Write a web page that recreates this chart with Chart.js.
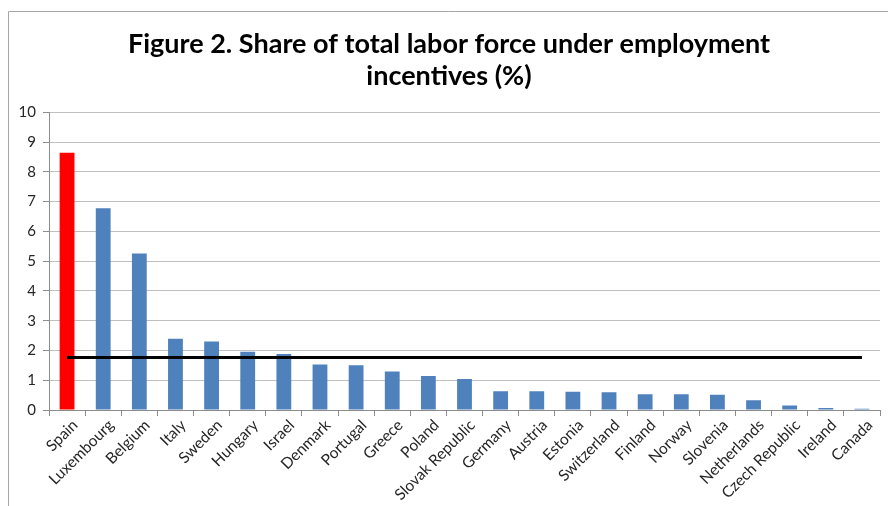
<!DOCTYPE html>
<html>
<head>
<meta charset="utf-8">
<script src="https://cdn.jsdelivr.net/npm/chart.js@4.4.1/dist/chart.umd.min.js"></script>
<style>
  html, body { margin: 0; padding: 0; background: #ffffff; overflow: hidden; width: 888px; height: 506px; }
  canvas { display: block; }
</style>
</head>
<body>
<canvas id="c" width="888" height="506"></canvas>
<script>
const categories = ["Spain","Luxembourg","Belgium","Italy","Sweden","Hungary","Israel","Denmark","Portugal","Greece","Poland","Slovak Republic","Germany","Austria","Estonia","Switzerland","Finland","Norway","Slovenia","Netherlands","Czech Republic","Ireland","Canada"];
const shareValues = [8.64, 6.78, 5.26, 2.39, 2.30, 1.96, 1.88, 1.53, 1.50, 1.29, 1.14, 1.04, 0.63, 0.63, 0.61, 0.60, 0.53, 0.53, 0.51, 0.33, 0.15, 0.07, 0.04];
const averageValues = [1.76, 1.76, 1.76, 1.76, 1.76, 1.76, 1.76, 1.76, 1.76, 1.76, 1.76, 1.76, 1.76, 1.76, 1.76, 1.76, 1.76, 1.76, 1.76, 1.76, 1.76, 1.76, 1.76];
const yTicks = [0, 1, 2, 3, 4, 5, 6, 7, 8, 9, 10];
const highlightCountry = "Spain";

const barColors = categories.map(c => c === highlightCountry ? "#ff0000" : "#4f81bd");

const framePlugin = {
  id: "frame",
  beforeDraw(chart) {
    const ctx = chart.ctx;
    ctx.save();
    ctx.fillStyle = "#ffffff";
    ctx.fillRect(0, 0, chart.width, chart.height);
    ctx.strokeStyle = "#a6a6a6";
    ctx.lineWidth = 1;
    ctx.beginPath();
    ctx.moveTo(8.5, chart.height);
    ctx.lineTo(8.5, 11.5);
    ctx.lineTo(chart.width, 11.5);
    ctx.stroke();
    ctx.restore();
  }
};

new Chart(document.getElementById("c"), {
  type: "bar",
  data: {
    labels: categories,
    datasets: [
      {
        type: "line",
        data: averageValues,
        borderColor: "#000000",
        borderWidth: 3,
        pointRadius: 0,
        fill: false,
        order: 0
      },
      {
        type: "bar",
        data: shareValues,
        backgroundColor: barColors,
        borderWidth: 0,
        barPercentage: 0.41,
        categoryPercentage: 1.0,
        order: 1
      }
    ]
  },
  plugins: [framePlugin],
  options: {
    responsive: false,
    animation: false,
    layout: { padding: { left: 18, right: 8, top: 0, bottom: 0 } },
    plugins: {
      legend: { display: false },
      tooltip: { enabled: false },
      title: {
        display: true,
        text: ["Figure 2. Share of total labor force under employment", "incentives (%)"],
        color: "#000000",
        font: { family: "Lato", size: 27, weight: "bold", lineHeight: 1.19 },
        padding: { top: 28, bottom: 20 }
      }
    },
    scales: {
      x: {
        grid: { display: true, drawOnChartArea: false, drawTicks: true, tickLength: 6, color: "#8c8c8c", offset: true },
        border: { display: true, color: "#8c8c8c", width: 1 },
        ticks: {
          color: "#262626",
          font: { family: "Lato", size: 15.5 },
          minRotation: 45, maxRotation: 45,
          autoSkip: false,
          padding: 0,
          labelOffset: 8
        },
        afterFit: (s) => { s.height = 96; }
      },
      y: {
        min: 0, max: 10,
        afterBuildTicks: (s) => { s.ticks = yTicks.map(v => ({ value: v })); },
        grid: { color: "#bfbfbf", lineWidth: 1, drawTicks: true, tickLength: 6, tickColor: "#8c8c8c" },
        border: { display: true, color: "#8c8c8c", width: 1 },
        ticks: {
          color: "#262626",
          font: { family: "Lato", size: 15 },
          padding: 7
        },
        afterFit: (s) => { s.width = 31; }
      }
    }
  }
});
</script>
</body>
</html>
